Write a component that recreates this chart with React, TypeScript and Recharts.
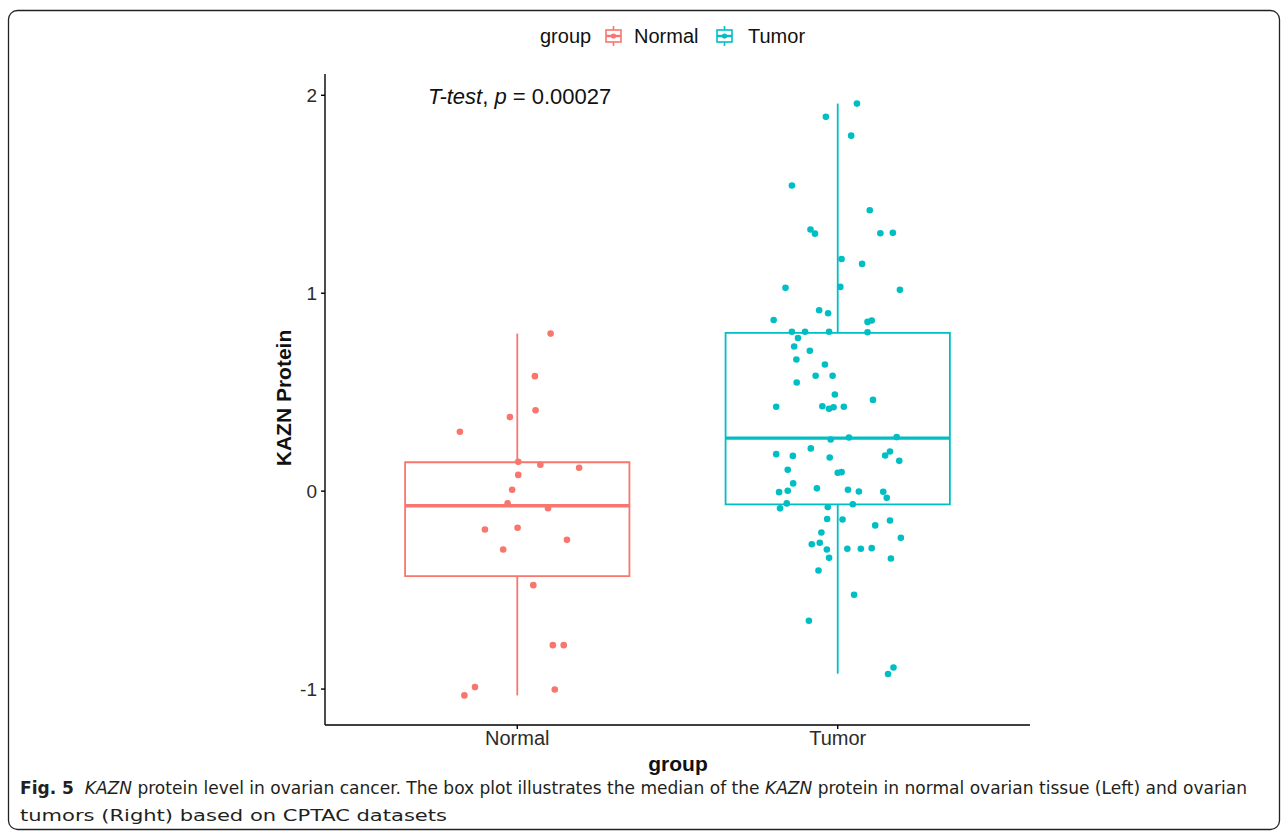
import React from 'react';
import { ComposedChart, Scatter, XAxis, YAxis, ReferenceArea, ReferenceLine } from 'recharts';

const categories = ['Normal', 'Tumor'];
const seriesColors = ['#F8766D', '#00BFC4'];
const yTicks = [-1, 0, 1, 2];

// [lower whisker, Q1, median, Q3, upper whisker]
const normalBox = [-1.032, -0.429, -0.074, 0.146, 0.796];
const tumorBox = [-0.922, -0.067, 0.268, 0.8, 1.958];

// jittered points (x = group position + jitter)
const normalX = [1.104, 1.055, 1.057, 0.977, 0.821, 1.003, 1.072, 1.193, 1.003, 0.984, 0.97, 1.096, 0.899, 1.001, 1.155, 0.956, 1.05, 1.111, 1.145, 0.868, 0.835, 1.117];
const normalY = [0.796, 0.581, 0.409, 0.374, 0.3, 0.148, 0.133, 0.118, 0.082, 0.007, -0.062, -0.086, -0.194, -0.185, -0.246, -0.295, -0.475, -0.778, -0.778, -0.99, -1.032, -1.002];

const tumorX = [2.06, 1.963, 2.042, 1.857, 2.1, 1.915, 1.929, 2.133, 2.172, 2.012, 2.076, 1.837, 2.008, 2.194, 1.942, 1.97, 1.8, 2.093, 2.106, 1.857, 1.898, 1.973, 2.093, 1.876, 1.864, 1.913, 1.871, 1.96, 1.931, 1.984, 1.872, 1.991, 2.11, 1.808, 1.952, 1.973, 1.987, 2.019, 1.978, 2.035, 2.184, 1.916, 1.808, 1.86, 1.975, 2.163, 2.148, 2.192, 1.844, 2.0, 2.012, 1.861, 1.817, 1.844, 1.935, 2.032, 2.066, 2.142, 2.153, 1.841, 1.82, 1.969, 2.047, 1.967, 2.015, 2.117, 2.163, 1.949, 2.197, 1.919, 1.944, 1.966, 2.03, 2.072, 2.106, 1.973, 2.166, 1.94, 2.051, 1.91, 2.174, 2.157];
const tumorY = [1.958, 1.891, 1.796, 1.544, 1.419, 1.322, 1.301, 1.303, 1.305, 1.173, 1.148, 1.027, 1.032, 1.017, 0.914, 0.899, 0.865, 0.855, 0.862, 0.805, 0.805, 0.805, 0.803, 0.774, 0.731, 0.709, 0.665, 0.64, 0.583, 0.583, 0.549, 0.488, 0.461, 0.426, 0.429, 0.416, 0.424, 0.426, 0.261, 0.271, 0.273, 0.216, 0.187, 0.178, 0.17, 0.2, 0.18, 0.153, 0.108, 0.093, 0.096, 0.039, -0.005, 0.002, 0.014, 0.007, -0.002, -0.003, -0.034, -0.062, -0.087, -0.081, -0.066, -0.141, -0.143, -0.173, -0.148, -0.209, -0.236, -0.268, -0.261, -0.295, -0.291, -0.291, -0.288, -0.337, -0.34, -0.401, -0.524, -0.655, -0.891, -0.924];

const normalPts = normalX.map((x, i) => ({ x, y: normalY[i] }));
const tumorPts = tumorX.map((x, i) => ({ x, y: tumorY[i] }));

const boxHalf = 0.35;
const font = '"Liberation Sans", Arial, sans-serif';
const captionFont = '"Liberation Sans Narrow", "DejaVu Sans Condensed", "Liberation Sans", sans-serif';

const renderBox = (pos: number, s: number[], color: string) => [
  <ReferenceLine key={`wl${pos}`} segment={[{ x: pos, y: s[0] }, { x: pos, y: s[1] }]} stroke={color} strokeWidth={1.8} ifOverflow="visible" />,
  <ReferenceLine key={`wh${pos}`} segment={[{ x: pos, y: s[3] }, { x: pos, y: s[4] }]} stroke={color} strokeWidth={1.8} ifOverflow="visible" />,
  <ReferenceArea key={`b${pos}`} x1={pos - boxHalf} x2={pos + boxHalf} y1={s[1]} y2={s[3]} fill="#fff" fillOpacity={0} stroke={color} strokeWidth={1.8} ifOverflow="visible" />,
  <ReferenceLine key={`m${pos}`} segment={[{ x: pos - boxHalf, y: s[2] }, { x: pos + boxHalf, y: s[2] }]} stroke={color} strokeWidth={3.4} ifOverflow="visible" />,
];

const dot = (color: string) => (p: any) => <circle cx={p.cx} cy={p.cy} r={3.3} fill={color} />;

const LegendKey = ({ x, color }: { x: number; color: string }) => (
  <g>
    <line x1={x + 7.5} y1={26} x2={x + 7.5} y2={46} stroke={color} strokeWidth={1.6} />
    <rect x={x} y={30} width={15} height={12} fill="#fff" stroke={color} strokeWidth={1.6} />
    <line x1={x} y1={36} x2={x + 15} y2={36} stroke={color} strokeWidth={2.4} />
    <circle cx={x + 7.5} cy={36} r={2.6} fill={color} />
  </g>
);

export default function App() {
  return (
    <div style={{ position: 'absolute', left: 0, top: 0, width: 1282, height: 837, background: '#fff' }}>
      <div style={{ position: 'absolute', left: 0, top: 0 }}>
        <ComposedChart width={1282} height={837} margin={{ top: 74, right: 252, bottom: 82, left: 280 }}>
          <XAxis
            dataKey="x"
            type="number"
            domain={[0.4, 2.6]}
            ticks={[1, 2]}
            tickFormatter={(v: number) => categories[v - 1]}
            allowDataOverflow
            height={30}
            stroke="#000"
            strokeWidth={1.4}
            tickSize={4}
            tickMargin={2}
            tick={{ fill: '#2b2b2b', fontSize: 20, fontFamily: font }}
          />
          <YAxis
            dataKey="y"
            type="number"
            domain={[-1.1815, 2.1075]}
            ticks={yTicks}
            allowDataOverflow
            width={45}
            stroke="#000"
            strokeWidth={1.4}
            tickSize={4}
            tickMargin={4}
            tick={{ fill: '#2b2b2b', fontSize: 19, fontFamily: font }}
          />
          {renderBox(1, normalBox, seriesColors[0])}
          {renderBox(2, tumorBox, seriesColors[1])}
          <Scatter name="Normal" data={normalPts} shape={dot(seriesColors[0])} isAnimationActive={false} />
          <Scatter name="Tumor" data={tumorPts} shape={dot(seriesColors[1])} isAnimationActive={false} />
        </ComposedChart>
      </div>
      <svg width={1282} height={837} style={{ position: 'absolute', left: 0, top: 0, pointerEvents: 'none' }}>
        <rect x={8.5} y={10.5} width={1271} height={819} rx={9} fill="none" stroke="#222" strokeWidth={1.3} />
        {/* legend */}
        <text x={540} y={43} fontSize={20} fontFamily={font} fill="#111">group</text>
        <LegendKey x={606} color={seriesColors[0]} />
        <text x={634} y={43} fontSize={20} fontFamily={font} fill="#111">Normal</text>
        <LegendKey x={717} color={seriesColors[1]} />
        <text x={748} y={43} fontSize={20} fontFamily={font} fill="#111">Tumor</text>
        {/* test annotation */}
        <text x={428} y={104} fontSize={22} fontFamily={font} fill="#111" style={{ whiteSpace: 'pre' }}>
          <tspan fontStyle="italic">T-test</tspan>, <tspan fontStyle="italic">p</tspan> = 0.00027
        </text>
        {/* axis titles */}
        <text x={0} y={0} transform="translate(291 398) rotate(-90)" textAnchor="middle" fontSize={21} fontWeight="bold" fontFamily={font} fill="#111">KAZN Protein</text>
        <text x={678} y={771} textAnchor="middle" fontSize={21} fontWeight="bold" fontFamily={font} fill="#111">group</text>
        {/* caption */}
        <text x={20} y={794} fontSize={17} fontFamily={captionFont} fill="#231f20" textLength={1227} lengthAdjust="spacingAndGlyphs" style={{ whiteSpace: 'pre' }}>
          <tspan fontWeight="bold">Fig. 5</tspan>  <tspan fontStyle="italic">KAZN</tspan> protein level in ovarian cancer. The box plot illustrates the median of the <tspan fontStyle="italic">KAZN</tspan> protein in normal ovarian tissue (Left) and ovarian
        </text>
        <text x={20} y={821} fontSize={16} fontFamily={captionFont} fill="#231f20" textLength={427} lengthAdjust="spacingAndGlyphs">
          tumors (Right) based on CPTAC datasets
        </text>
      </svg>
    </div>
  );
}
